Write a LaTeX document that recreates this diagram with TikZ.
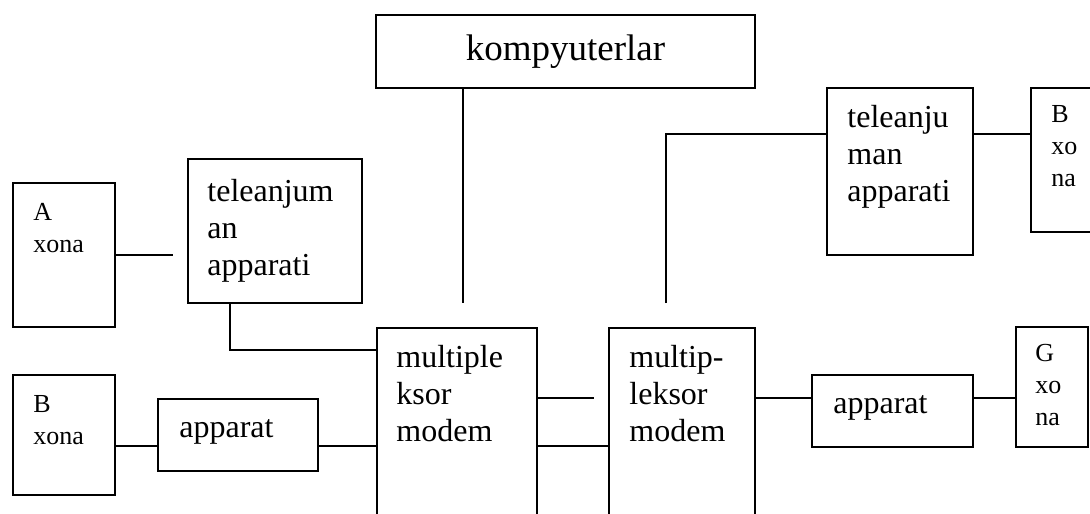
\documentclass[tikz,border=0pt]{standalone}
\usepackage{fontspec}
\setmainfont{Liberation Serif}
\usetikzlibrary{positioning,calc}
\tikzset{
  blk/.style={draw, line width=1pt, rectangle, inner sep=0pt, anchor=north west},
  txt/.style={anchor=north west, inner sep=0pt, align=left, font=\rmfamily\fontsize{16}{18.4}\selectfont},
  ztxt/.style={txt, font=\rmfamily\fontsize{13}{16}\selectfont},
  wire/.style={line width=1pt, black}
}

\begin{document}
\begin{tikzpicture}[x=0.5pt, y=-0.5pt]
  \fill[white] (0,0) rectangle (1090,513);
  \useasboundingbox (0,0) rectangle (1090,513);
  \clip (0,0) rectangle (1090,513);

  % boxes
  \node[blk, minimum width=189.5pt, minimum height=36.5pt,
        font=\rmfamily\fontsize{18.5}{22}\selectfont] (komp) at (375,14) {kompyuterlar};
  \node[blk, minimum width=51pt, minimum height=72pt] (azona) at (12,182) {};
  \node[blk, minimum width=87pt, minimum height=72pt] (tele1) at (187,158) {};
  \node[blk, minimum width=51pt, minimum height=60pt] (bzona) at (12,374) {};
  \node[blk, minimum width=80pt, minimum height=36pt] (app1) at (157,398) {};
  \node[blk, minimum width=80pt, minimum height=120pt] (mux1) at (376,327) {};
  \node[blk, minimum width=73pt, minimum height=120pt] (mux2) at (608,327) {};
  \node[blk, minimum width=73pt, minimum height=83.5pt] (tele2) at (826,87) {};
  \node[blk, minimum width=40pt, minimum height=72pt] (vzona) at (1030,87) {};
  \node[blk, minimum width=80.5pt, minimum height=36pt] (app2) at (811,374) {};
  \node[blk, minimum width=36pt, minimum height=60pt] (gzona) at (1015,326) {};

  % texts
  \node[ztxt] (azona-t) at ([shift={(10.5pt,-10.5pt)}]azona.north west) {A\\xona};
  \node[txt] (tele1-t) at ([shift={(10pt,-10.5pt)}]tele1.north west) {teleanjum\\an\\apparati};
  \node[ztxt] (bzona-t) at ([shift={(10.5pt,-10.5pt)}]bzona.north west) {B\\xona};
  \node[txt] (app1-t) at ([shift={(11pt,-10.5pt)}]app1.north west) {apparat};
  \node[txt] (mux1-t) at ([shift={(10pt,-9pt)}]mux1.north west) {multiple\\ksor\\modem};
  \node[txt] (mux2-t) at ([shift={(10.5pt,-9pt)}]mux2.north west) {multip-\\leksor\\modem};
  \node[txt] (tele2-t) at ([shift={(10.5pt,-9pt)}]tele2.north west) {teleanju\\man\\apparati};
  \node[ztxt] (vzona-t) at ([shift={(10.5pt,-9pt)}]vzona.north west) {B\\xo\\na};
  \node[txt] (app2-t) at ([shift={(11pt,-10.5pt)}]app2.north west) {apparat};
  \node[ztxt] (gzona-t) at ([shift={(10pt,-9pt)}]gzona.north west) {G\\xo\\na};

  % wiring
  \coordinate (aend) at (173,254);
  \coordinate (tdrop) at (230,350);
  \coordinate (kend) at (463,303);
  \coordinate (tend) at (666,303);
  \coordinate (mend) at (594,398);
  \coordinate (r134) at (0,134);
  \coordinate (r398) at (0,398);
  \coordinate (r446) at (0,446);

  \draw[wire] (azona.east) -- (azona.east -| aend);
  \draw[wire] (tele1.south -| tdrop) |- (mux1.west |- tdrop);
  \draw[wire] (bzona.east |- r446) -- (app1.west |- r446);
  \draw[wire] (app1.east |- r446) -- (mux1.west |- r446);
  \draw[wire] (mux1.east |- r446) -- (mux2.west |- r446);
  \draw[wire] (mux1.east |- r398) -- (mend);
  \draw[wire] (komp.south -| kend) -- (kend);
  \draw[wire] (tend) |- (tele2.west |- r134);
  \draw[wire] (tele2.east |- r134) -- (vzona.west |- r134);
  \draw[wire] (mux2.east |- r398) -- (app2.west |- r398);
  \draw[wire] (app2.east |- r398) -- (gzona.west |- r398);
\end{tikzpicture}
\end{document}
